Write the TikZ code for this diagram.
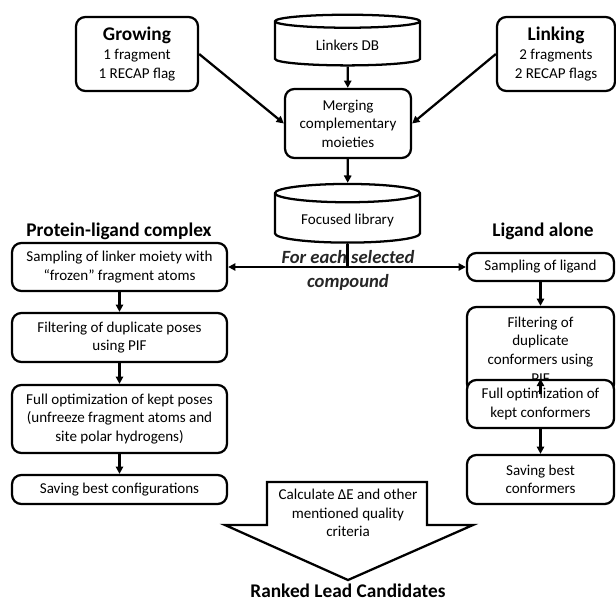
\documentclass[tikz,border=0pt]{standalone}
\usepackage{fontspec}
\setmainfont{Carlito}
\usetikzlibrary{arrows.meta,shapes.geometric}

\begin{document}
\begin{tikzpicture}[
    x=0.75pt, y=-0.75pt,
    >={Triangle[length=5.5pt,width=5.5pt]},
    box/.style={draw, rounded corners=7pt, line width=1.7pt, fill=white, align=center, inner sep=1pt, font=\fontsize{11.3}{13.9}\selectfont},
    db/.style={draw, cylinder, shape border rotate=90, aspect=0.18, line width=1.7pt, fill=white, minimum width=108.75pt, font=\fontsize{11.3}{13.9}\selectfont},
    flow/.style={->, line width=1.7pt},
    heading/.style={font=\fontsize{14.5}{16}\selectfont\bfseries},
    eachlabel/.style={font=\fontsize{14}{18}\selectfont\bfseries\itshape, align=center, text=black!85}
]
    \useasboundingbox (0,0) rectangle (616,603);

    % top part
    \node[box, minimum width=91.5pt, minimum height=55.5pt] (grow) at (137,54)
        {{\fontsize{14.5}{16}\selectfont\bfseries Growing}\\1 fragment\\1 RECAP flag};
    \node[box, minimum width=88.5pt, minimum height=55.5pt] (link) at (556,54)
        {{\fontsize{14.5}{16}\selectfont\bfseries Linking}\\2 fragments\\2 RECAP flags};
    \node[db, minimum height=38pt] (linkdb) at (347.5,45) {Linkers DB};
    \node[box, minimum width=94.5pt, minimum height=51.75pt] (merge) at (348,123.5)
        {Merging\\complementary\\moieties};
    \node[db, minimum height=44pt] (focus) at (347.5,220) {Focused library};

    % protein-ligand complex
    \node[heading] (ptitle) at (119,231) {Protein-ligand complex};
    \node[box, minimum width=161.25pt, minimum height=36pt] (p1) at (119.5,267)
        {Sampling of linker moiety with\\“frozen” fragment atoms};
    \node[box, minimum width=161.25pt, minimum height=36.75pt] (p2) at (119.5,337.5)
        {Filtering of duplicate poses\\using PIF};
    \node[box, minimum width=161.25pt, minimum height=51pt] (p3) at (119.5,419)
        {Full optimization of kept poses\\(unfreeze fragment atoms and\\site polar hydrogens)};
    \node[box, minimum width=161.25pt, minimum height=21.75pt] (p4) at (119.5,489.5)
        {Saving best configurations};

    % ligand alone
    \node[heading] (ltitle) at (543,231) {Ligand alone};
    \node[box, minimum width=110.25pt, minimum height=21pt] (l1) at (540.5,267) {Sampling of ligand};
    \node[box, minimum width=110.25pt, minimum height=64.5pt] (l2) at (540.5,350)
        {Filtering of\\duplicate\\conformers using\\PIF};
    \node[box, minimum width=110.25pt, minimum height=36pt] (l3) at (540.5,404)
        {Full optimization of\\kept conformers};
    \node[box, minimum width=110.25pt, minimum height=36.75pt] (l4) at (540.5,479.5)
        {Saving best\\conformers};

    \foreach \a/\b in {linkdb/merge,merge/focus,p1/p2,p2/p3,p3/p4,l1/l2,l3/l4} {
        \draw[flow] (\a) -- (\b);
    }
    \draw[flow] (l2.south) -- (l3.north);
    \draw[flow] (grow.east) -- (merge.west);
    \draw[flow] (link.west) -- (merge.east);

    \draw[line width=1.7pt] (focus.south) -- (focus.south |- p1.east);
    \draw[flow, <->] (p1.east) -- (l1.west);
    \node[eachlabel] (each) at (348,270) {For each selected\\compound};

    % final arrow
    \node[font=\fontsize{11.3}{13.9}\selectfont, align=center] (calc) at (348,513)
        {Calculate ΔE and other\\mentioned quality\\criteria};
    \draw[line width=1.7pt, line join=miter] (267,482) -- (427,482) -- (427,525) -- (473,525)
        -- (348,580) -- (225,525) -- (267,525) -- cycle;
    \node[heading, anchor=base, inner sep=0pt] (ranked) at (348,597) {Ranked Lead Candidates};
\end{tikzpicture}
\end{document}
